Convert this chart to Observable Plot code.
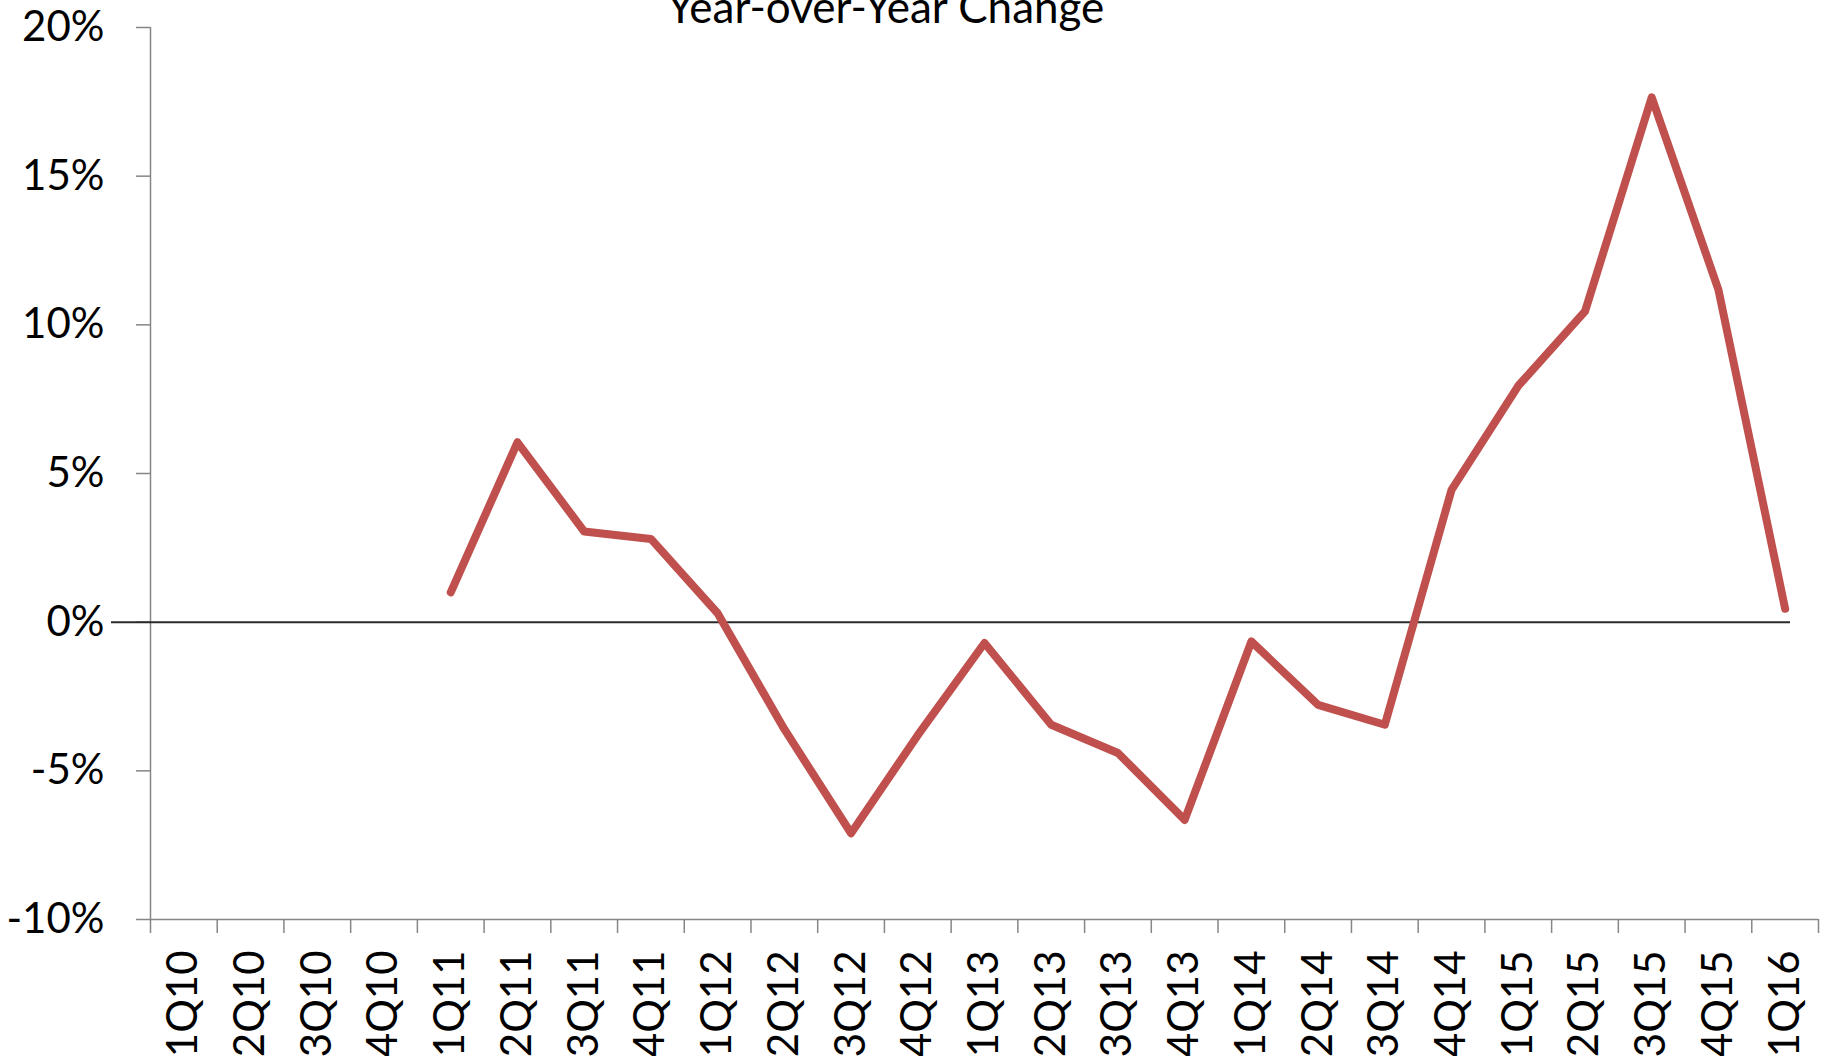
<!DOCTYPE html>
<html>
<head>
<meta charset="utf-8">
<script src="https://cdn.jsdelivr.net/npm/d3@7"></script>
<script src="https://cdn.jsdelivr.net/npm/@observablehq/plot@0.6"></script>
<style>
  html, body { margin: 0; padding: 0; background: #ffffff; }
  #chart svg { display: block; }
</style>
</head>
<body>
<div id="chart"></div>
<script>
const title = "Year-over-Year Change";
const quarters = ["1Q10","2Q10","3Q10","4Q10","1Q11","2Q11","3Q11","4Q11","1Q12","2Q12","3Q12","4Q12","1Q13","2Q13","3Q13","4Q13","1Q14","2Q14","3Q14","4Q14","1Q15","2Q15","3Q15","4Q15","1Q16"];
const yoyChange = [null,null,null,null,1.0,6.05,3.05,2.8,0.3,-3.6,-7.1,-3.8,-0.7,-3.45,-4.4,-6.65,-0.65,-2.78,-3.45,4.45,7.95,10.45,17.65,11.18,0.45];
const yTicks = [-10,-5,0,5,10,15,20];

const rows = quarters.map((q, i) => ({q, i, v: yoyChange[i]}));
const boundaries = d3.range(quarters.length + 1);
const axisGray = "#868686";

const chart = Plot.plot({
  width: 1825,
  height: 1056,
  marginLeft: 150,
  marginRight: 7,
  marginTop: 27,
  marginBottom: 137,
  style: {fontFamily: "Lato, 'Open Sans', sans-serif", background: "#ffffff", color: "#000000"},
  x: {domain: [0, quarters.length], axis: null},
  y: {domain: [-10, 20], axis: null},
  marks: [
    Plot.ruleX([0], {stroke: axisGray, strokeWidth: 1.5}),
    Plot.ruleY(yTicks, {y: d => d, x1: 0, x2: 0, insetLeft: -14, stroke: axisGray, strokeWidth: 1.5}),
    Plot.ruleY([-10], {stroke: axisGray, strokeWidth: 1.5}),
    Plot.ruleX(boundaries, {x: d => d, y1: -10, y2: -10, insetBottom: -14, stroke: axisGray, strokeWidth: 1.5}),
    Plot.ruleY([0], {x1: 0, x2: quarters.length, insetLeft: -39, insetRight: 28, stroke: "#2a2a2a", strokeWidth: 2}),
    Plot.line(rows.filter(d => d.v != null), {
      x: d => d.i + 0.5, y: "v",
      stroke: "#C0504D", strokeWidth: 8,
      strokeLinecap: "round", strokeLinejoin: "round"
    }),
    Plot.text(yTicks, {
      y: d => d, x: 0, text: d => `${d}%`,
      textAnchor: "end", dx: -46, fontSize: 42, fill: "#000000"
    }),
    Plot.text(rows, {
      x: d => d.i + 0.5, y: -10, text: "q",
      rotate: -90, textAnchor: "end", dy: 31, fontSize: 42, fill: "#000000"
    }),
    Plot.text([title], {
      frameAnchor: "top", text: d => d, lineAnchor: "bottom",
      dx: -99, dy: -5, fontSize: 44, fill: "#000000"
    })
  ]
});
document.getElementById("chart").appendChild(chart);
</script>
</body>
</html>
